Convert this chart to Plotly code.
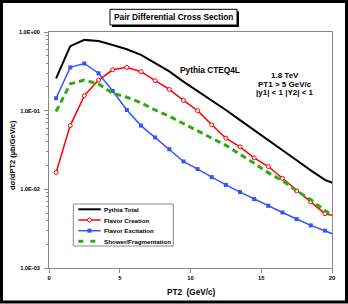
import plotly.graph_objects as go

# ---------------- data ----------------
pt2 = [0.5, 1.5, 2.5, 3.5, 4.5, 5.5, 6.5, 7.5, 8.5, 9.5, 10.5,
       11.5, 12.5, 13.5, 14.5, 15.5, 16.5, 17.5, 18.5, 19.5, 20.5]
pythia_total = [0.258, 0.661, 0.794, 0.769, 0.684, 0.603, 0.513, 0.407, 0.316, 0.234, 0.178,
                0.135, 0.102, 0.0759, 0.0562, 0.0417, 0.0316, 0.0234, 0.0174, 0.0132, 0.0112]
flavor_creation = [0.0164, 0.0646, 0.155, 0.245, 0.331, 0.355, 0.313, 0.240, 0.186, 0.135, 0.100,
                   0.0661, 0.0447, 0.0347, 0.0251, 0.0195, 0.0138, 0.00955, 0.00692, 0.0049, 0.00447]
flavor_excitation = [0.144, 0.355, 0.398, 0.299, 0.178, 0.102, 0.0646, 0.0457, 0.0324, 0.0226, 0.0181,
                     0.0143, 0.0114, 0.00923, 0.00752, 0.00618, 0.00508, 0.00419, 0.00348, 0.00298, 0.00251]
shower_frag = [0.0977, 0.219, 0.245, 0.219, 0.166, 0.148, 0.126, 0.102, 0.0851, 0.0692, 0.0562,
               0.0447, 0.0363, 0.0282, 0.0214, 0.0162, 0.0129, 0.00955, 0.00741, 0.00537, 0.00417]

series_names = ["Pythia Total", "Flavor Creation", "Flavor Excitation", "Shower/Fragmentation"]
y_tickvals = [1e-3, 1e-2, 1e-1, 1.0]
y_ticktext = ["1.0E-03", "1.0E-02", "1.0E-01", "1.0E+00"]
x_tickvals = [0, 5, 10, 15, 20]

# ---------------- layout helpers ----------------
W, H = 348, 304
ML, MR, MT, MB = 49, 16, 32, 36
PW = W - ML - MR
PH = H - MT - MB


def px(x):
    return (x - ML) / PW


def py(y):
    return (H - MB - y) / PH


FONT = "Liberation Sans, Arial, sans-serif"
BLACK = "#000000"
RED = "#FF0000"
BLUE = "#3355FF"
GREEN = "#2EAA14"
GRAY = "#888888"

fig = go.Figure()
fig.add_trace(go.Scatter(x=pt2, y=pythia_total, mode="lines", name=series_names[0],
                         line=dict(color=BLACK, width=2)))
fig.add_trace(go.Scatter(x=pt2, y=flavor_creation, mode="lines+markers", name=series_names[1],
                         line=dict(color=RED, width=1.5),
                         marker=dict(symbol="circle", size=4, color="white",
                                     line=dict(color=RED, width=1))))
fig.add_trace(go.Scatter(x=pt2, y=flavor_excitation, mode="lines+markers", name=series_names[2],
                         line=dict(color=BLUE, width=1.5),
                         marker=dict(symbol="square", size=4, color=BLUE)))
fig.add_trace(go.Scatter(x=pt2, y=shower_frag, mode="lines", name=series_names[3],
                         line=dict(color=GREEN, width=3, dash="6px,4px")))

minor_vals = [k * 10 ** e for e in (-3, -2, -1) for k in range(2, 10)]

fig.update_layout(
    width=W, height=H,
    margin=dict(l=ML, r=MR, t=MT, b=MB),
    paper_bgcolor="white", plot_bgcolor="white",
    showlegend=False,
    font=dict(family=FONT, color="black"),
    xaxis=dict(range=[0, 20], tickmode="array", tickvals=x_tickvals,
               showgrid=False, zeroline=False, showline=True, linecolor=GRAY, linewidth=1,
               mirror=True, ticks="outside", ticklen=4, tickcolor=GRAY,
               tickfont=dict(family=FONT, size=5.8, weight="bold")),
    yaxis=dict(type="log", range=[-3, 0], tickmode="array", tickvals=y_tickvals,
               ticktext=y_ticktext, showgrid=False, zeroline=False, showline=True,
               linecolor=GRAY, linewidth=1, mirror=True, ticks="outside", ticklen=4,
               tickcolor=GRAY, ticklabelstandoff=3,
               tickfont=dict(family=FONT, size=5.6, weight="bold"),
               minor=dict(tickmode="array", tickvals=minor_vals, ticks="outside",
                          ticklen=2, tickcolor=GRAY, showgrid=False)),
)

shapes = []
# outer frame
shapes.append(dict(type="rect", xref="paper", yref="paper",
                   x0=px(1.5), x1=px(346.5), y0=py(1.5), y1=py(302),
                   line=dict(color="black", width=3), fillcolor="rgba(0,0,0,0)", layer="above"))
# title box with shadow
shapes.append(dict(type="rect", xref="paper", yref="paper",
                   x0=px(112), x1=px(239), y0=py(11.3), y1=py(27),
                   line=dict(width=0), fillcolor="black", layer="above"))
shapes.append(dict(type="rect", xref="paper", yref="paper",
                   x0=px(110), x1=px(237), y0=py(9.3), y1=py(25),
                   line=dict(color="black", width=1), fillcolor="white", layer="above"))
# legend box
LX0, LX1, LY0, LY1 = 73.3, 173.3, 204, 246
shapes.append(dict(type="rect", xref="paper", yref="paper",
                   x0=px(LX0), x1=px(LX1), y0=py(LY0), y1=py(LY1),
                   line=dict(color=GRAY, width=1), fillcolor="white", layer="above"))
rows = [209.3, 220.0, 230.7, 241.2]
SX0, SX1, SXM = 78.3, 100.7, 89.5
styles = [dict(color=BLACK, width=2), dict(color=RED, width=1.5),
          dict(color=BLUE, width=1.5), dict(color=GREEN, width=3, dash="5px,7px")]
for ry, st in zip(rows, styles):
    shapes.append(dict(type="line", xref="paper", yref="paper",
                       x0=px(SX0), x1=px(SX1), y0=py(ry), y1=py(ry),
                       line=st, layer="above"))
# legend markers
shapes.append(dict(type="circle", xref="paper", yref="paper",
                   x0=px(SXM - 2), x1=px(SXM + 2), y0=py(rows[1] - 2), y1=py(rows[1] + 2),
                   line=dict(color=RED, width=1), fillcolor="white", layer="above"))
shapes.append(dict(type="rect", xref="paper", yref="paper",
                   x0=px(SXM - 2), x1=px(SXM + 2), y0=py(rows[2] - 2), y1=py(rows[2] + 2),
                   line=dict(color=BLUE, width=0), fillcolor=BLUE, layer="above"))
fig.update_layout(shapes=shapes)

ann = []


def text(x, y, s, size, xanchor="center", angle=0):
    ann.append(dict(xref="paper", yref="paper", x=px(x), y=py(y), text=s,
                    showarrow=False, xanchor=xanchor, yanchor="middle", textangle=angle,
                    font=dict(family=FONT, size=size, color="black", weight="bold")))


text(173.5, 17.2, "Pair Differential Cross Section", 8.3)
text(210, 70, "Pythia CTEQ4L", 8.3)
text(285, 75.7, "1.8 TeV", 8)
text(285, 84.3, "PT1 &gt; 5 GeV/c", 8)
text(285, 92.7, "|y1| &lt; 1 |Y2| &lt; 1", 8)
text(191, 292.5, "PT2\u00a0\u00a0(GeV/c)", 8.2)
text(12, 155, "dσ/dPT2 (µb/GeV/c)", 7.5, angle=-90)
for ry, name in zip(rows, series_names):
    text(102, ry, name, 6.2, xanchor="left")
fig.update_layout(annotations=ann)

fig.write_html("out.html", config={"displayModeBar": False},
               post_script="document.body.style.margin='0px';document.body.style.overflow='hidden';")
